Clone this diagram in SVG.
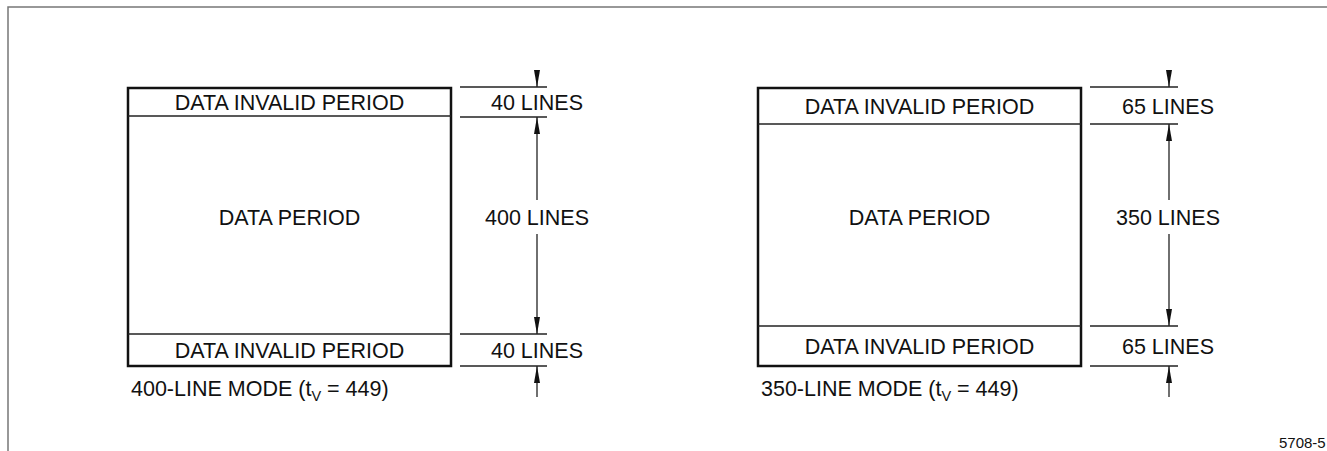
<svg xmlns="http://www.w3.org/2000/svg" width="1327" height="451" viewBox="0 0 1327 451">
<style>
text{font-family:"Liberation Sans",Arial,sans-serif;font-size:21.5px;fill:#111}
.c{text-anchor:middle}
.box{fill:none;stroke:#111;stroke-width:2.5}
.div{stroke:#222;stroke-width:1.3}
.ext{stroke:#222;stroke-width:1.3}
.arr{stroke:#222;stroke-width:1.3;fill:none}
.frame{stroke:#777;stroke-width:1.5;fill:none}
.sm{font-size:15px}
</style>
<defs>
<marker id="ah" viewBox="0 0 17 6" refX="17" refY="3" markerWidth="17" markerHeight="6" markerUnits="userSpaceOnUse" orient="auto">
<path d="M0,0 L17,3 L0,6 Z" fill="#111"/>
</marker>
</defs>
<path class="frame" d="M8,451 V7 H1327"/>
<g id="mode400">
<rect class="box" x="128" y="88" width="323" height="278"/>
<line class="div" x1="128" y1="116" x2="451" y2="116"/>
<line class="div" x1="128" y1="334" x2="451" y2="334"/>
<text class="c" x="289.5" y="110">DATA INVALID PERIOD</text>
<text class="c" x="289.5" y="225">DATA PERIOD</text>
<text class="c" x="289.5" y="358">DATA INVALID PERIOD</text>
<text x="131" y="396">400-LINE MODE (t<tspan font-size="14.5" dy="5">V</tspan><tspan dy="-5"> = 449)</tspan></text>
</g>
<g id="mode350">
<rect class="box" x="758" y="88" width="323" height="278"/>
<line class="div" x1="758" y1="124" x2="1081" y2="124"/>
<line class="div" x1="758" y1="326" x2="1081" y2="326"/>
<text class="c" x="919.5" y="114">DATA INVALID PERIOD</text>
<text class="c" x="919.5" y="225">DATA PERIOD</text>
<text class="c" x="919.5" y="354">DATA INVALID PERIOD</text>
<text x="761" y="396">350-LINE MODE (t<tspan font-size="14.5" dy="5">V</tspan><tspan dy="-5"> = 449)</tspan></text>
</g>
<g id="dim400">
<line class="ext" x1="460" y1="87" x2="547" y2="87"/>
<line class="ext" x1="460" y1="117" x2="547" y2="117"/>
<line class="ext" x1="460" y1="334" x2="547" y2="334"/>
<line class="ext" x1="460" y1="366" x2="547" y2="366"/>
<text class="c" x="537" y="110">40 LINES</text>
<text class="c" x="537" y="225">400 LINES</text>
<text class="c" x="537" y="358">40 LINES</text>
</g>
<g id="dim350">
<line class="ext" x1="1090" y1="87" x2="1178" y2="87"/>
<line class="ext" x1="1090" y1="124" x2="1178" y2="124"/>
<line class="ext" x1="1090" y1="326" x2="1178" y2="326"/>
<line class="ext" x1="1090" y1="366" x2="1178" y2="366"/>
<text class="c" x="1168" y="114">65 LINES</text>
<text class="c" x="1168" y="225">350 LINES</text>
<text class="c" x="1168" y="354">65 LINES</text>
</g>
<g id="connectors">
<line class="arr" x1="537" y1="70" x2="537" y2="87" marker-end="url(#ah)"/>
<line class="arr" x1="537" y1="200" x2="537" y2="117" marker-end="url(#ah)"/>
<line class="arr" x1="537" y1="234" x2="537" y2="334" marker-end="url(#ah)"/>
<line class="arr" x1="537" y1="397" x2="537" y2="366" marker-end="url(#ah)"/>
<line class="arr" x1="1169" y1="70" x2="1169" y2="87" marker-end="url(#ah)"/>
<line class="arr" x1="1169" y1="200" x2="1169" y2="124" marker-end="url(#ah)"/>
<line class="arr" x1="1169" y1="234" x2="1169" y2="326" marker-end="url(#ah)"/>
<line class="arr" x1="1169" y1="397" x2="1169" y2="366" marker-end="url(#ah)"/>
</g>
<text class="sm" x="1279" y="448">5708-5</text>
</svg>
